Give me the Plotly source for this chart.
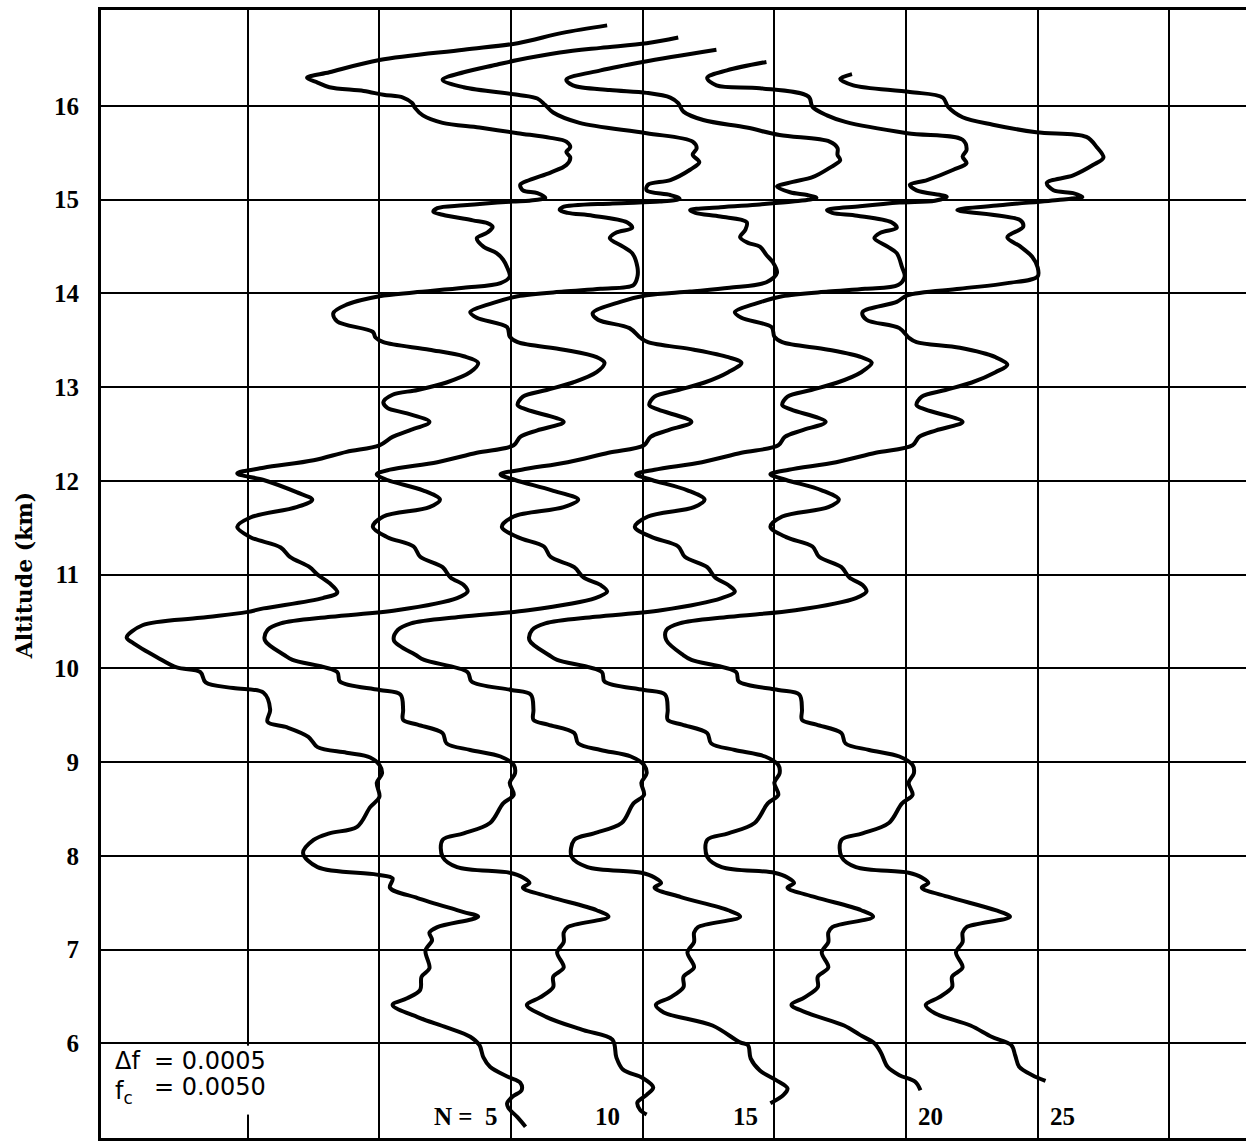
import plotly.graph_objects as go

# ---------------- data ----------------
altitude_ticks = [6, 7, 8, 9, 10, 11, 12, 13, 14, 15, 16]
tick_labels = [str(v) for v in altitude_ticks]
grid_columns = [1, 2, 3, 4, 5, 6, 7, 8]
series_names = ["N = 5", "10", "15", "20", "25"]

x_n5 = [3.73,3.39,3.05,2.64,2.00,1.62,1.45,1.53,1.62,1.88,
        2.03,2.18,2.25,2.27,2.33,2.48,2.76,3.05,3.30,3.42,
        3.45,3.42,3.45,3.42,3.30,3.14,3.07,3.09,3.20,3.26,
        3.14,3.01,2.64,2.44,2.41,2.48,2.71,2.82,2.86,2.82,
        2.74,2.79,2.89,2.94,2.97,2.99,2.92,2.64,2.26,2.00,
        1.75,1.65,1.68,1.95,1.97,2.03,2.38,2.64,2.75,2.69,
        2.51,2.29,2.10,2.03,2.06,2.21,2.38,2.23,2.10,2.00,
        1.75,1.50,1.12,0.92,1.12,1.37,1.49,1.37,1.02,0.92,
        1.02,1.25,1.32,1.47,1.53,1.62,1.68,1.57,1.12,0.99,
        0.64,0.20,0.08,0.13,0.31,0.46,0.64,0.68,0.89,1.12,
        1.17,1.15,1.30,1.46,1.53,1.75,1.93,2.00,2.02,1.98,
        2.00,1.93,1.83,1.62,1.50,1.42,1.53,1.98,2.10,2.08,
        2.29,2.64,2.75,2.44,2.38,2.40,2.35,2.38,2.32,2.31,
        2.21,2.10,2.29,2.51,2.69,2.76,2.79,2.84,2.98,3.07,
        3.08,3.01,2.97,2.98,3.05,3.11]
alt_n5 = [16.86,16.78,16.67,16.60,16.49,16.36,16.30,16.25,16.20,16.16,
          16.12,16.09,16.03,15.98,15.90,15.82,15.77,15.71,15.66,15.62,
          15.56,15.51,15.45,15.37,15.29,15.21,15.16,15.10,15.07,15.02,
          14.99,14.98,14.94,14.91,14.87,14.84,14.78,14.75,14.71,14.65,
          14.59,14.50,14.43,14.36,14.28,14.18,14.11,14.06,14.01,13.97,
          13.88,13.79,13.70,13.59,13.53,13.48,13.40,13.33,13.26,13.16,
          13.05,12.97,12.92,12.84,12.78,12.72,12.63,12.54,12.47,12.38,
          12.31,12.22,12.14,12.08,12.01,11.88,11.80,11.72,11.61,11.51,
          11.40,11.29,11.19,11.08,11.00,10.91,10.81,10.75,10.64,10.60,
          10.54,10.46,10.33,10.27,10.12,10.01,9.96,9.85,9.79,9.74,
          9.56,9.43,9.37,9.27,9.16,9.10,9.05,8.97,8.88,8.78,
          8.63,8.52,8.31,8.24,8.17,8.03,7.88,7.80,7.76,7.66,
          7.55,7.40,7.35,7.24,7.18,7.10,6.99,6.80,6.71,6.57,
          6.48,6.41,6.28,6.17,6.07,5.98,5.85,5.75,5.64,5.58,
          5.50,5.43,5.36,5.31,5.21,5.11]

x_n10 = [4.27,4.03,3.68,3.37,3.05,2.89,2.64,2.48,2.64,3.05,
         3.20,3.26,3.32,3.52,4.03,4.38,4.41,4.38,4.43,4.36,
         4.21,4.04,4.03,4.21,4.28,4.13,3.77,3.39,3.37,3.43,
         3.62,3.88,3.92,3.80,3.75,3.85,3.92,3.96,3.96,3.93,
         3.68,3.40,3.05,2.89,2.69,2.74,2.97,2.99,3.05,3.40,
         3.65,3.71,3.65,3.47,3.27,3.09,3.05,3.12,3.40,3.20,
         3.07,3.02,2.74,2.44,2.08,1.98,2.06,2.33,2.46,2.38,
         2.03,1.95,2.06,2.26,2.31,2.48,2.54,2.64,2.67,2.59,
         2.13,1.63,1.25,1.15,1.13,1.28,1.34,1.68,1.70,2.00,
         2.16,2.18,2.18,2.29,2.48,2.51,2.69,2.92,3.02,3.03,
         2.99,3.02,2.94,2.84,2.64,2.48,2.48,2.59,2.99,3.09,
         3.14,3.09,3.30,3.65,3.74,3.43,3.40,3.40,3.35,3.40,
         3.32,3.32,3.22,3.12,3.27,3.55,3.77,3.80,3.85,4.00,
         4.08,4.03,3.96,3.98,4.03]
alt_n10 = [16.73,16.67,16.62,16.57,16.49,16.44,16.36,16.28,16.20,16.12,
           16.08,16.01,15.93,15.82,15.71,15.62,15.55,15.48,15.40,15.32,
           15.21,15.16,15.10,15.05,15.01,14.98,14.96,14.92,14.89,14.86,
           14.83,14.76,14.70,14.65,14.59,14.50,14.43,14.28,14.18,14.09,
           14.05,14.02,13.97,13.91,13.80,13.74,13.64,13.54,13.48,13.40,
           13.32,13.26,13.16,13.05,12.97,12.90,12.81,12.76,12.63,12.54,
           12.47,12.38,12.30,12.20,12.12,12.07,12.01,11.90,11.80,11.72,
           11.62,11.51,11.40,11.30,11.19,11.08,10.97,10.89,10.82,10.75,
           10.62,10.55,10.48,10.41,10.30,10.14,10.09,9.96,9.86,9.77,
           9.72,9.56,9.45,9.40,9.31,9.20,9.13,9.06,8.97,8.88,
           8.78,8.65,8.56,8.35,8.24,8.17,7.99,7.88,7.82,7.77,
           7.71,7.66,7.56,7.42,7.35,7.24,7.18,7.08,6.97,6.81,
           6.71,6.60,6.49,6.41,6.28,6.14,6.04,5.85,5.72,5.63,
           5.53,5.45,5.37,5.29,5.24]

x_n15 = [4.56,4.00,3.68,3.42,3.47,3.75,4.03,4.21,4.27,4.31,
         4.46,4.79,5.04,5.42,5.48,5.48,5.50,5.42,5.29,5.14,
         5.02,5.12,5.25,5.32,5.14,4.89,4.59,4.36,4.40,4.59,
         4.79,4.78,4.74,4.80,4.89,4.94,4.99,5.02,4.94,4.66,
         4.36,4.03,3.83,3.62,3.66,3.90,3.98,4.04,4.39,4.65,
         4.75,4.65,4.47,4.27,4.09,4.05,4.12,4.37,4.19,4.06,
         4.01,3.74,3.43,3.08,2.92,3.03,3.31,3.51,3.40,3.02,
         2.93,3.05,3.25,3.30,3.48,3.55,3.68,3.73,3.64,3.13,
         2.62,2.24,2.14,2.11,2.28,2.34,2.67,2.70,3.00,3.15,
         3.17,3.17,3.28,3.48,3.51,3.68,3.91,4.01,4.03,3.99,
         4.01,3.93,3.84,3.63,3.48,3.46,3.58,3.99,4.09,4.14,
         4.09,4.29,4.65,4.74,4.42,4.39,4.39,4.34,4.39,4.31,
         4.31,4.21,4.10,4.16,4.53,4.74,4.80,4.82,4.89,5.01,
         5.10,5.07,4.97]
alt_n15 = [16.60,16.47,16.38,16.28,16.22,16.17,16.14,16.09,16.03,15.94,
           15.85,15.77,15.69,15.62,15.55,15.48,15.42,15.34,15.24,15.19,
           15.14,15.08,15.05,15.02,14.98,14.95,14.92,14.89,14.86,14.82,
           14.76,14.68,14.60,14.54,14.50,14.41,14.33,14.22,14.12,14.06,
           14.02,13.98,13.91,13.79,13.72,13.63,13.53,13.48,13.40,13.32,
           13.26,13.16,13.05,12.97,12.90,12.81,12.76,12.63,12.54,12.47,
           12.38,12.30,12.20,12.12,12.07,12.01,11.90,11.80,11.72,11.62,
           11.51,11.40,11.30,11.19,11.08,10.97,10.89,10.82,10.75,10.62,
           10.55,10.48,10.41,10.30,10.14,10.09,9.96,9.86,9.77,9.72,
           9.56,9.45,9.40,9.31,9.20,9.13,9.06,8.97,8.88,8.78,
           8.65,8.56,8.35,8.24,8.17,7.99,7.88,7.82,7.77,7.71,
           7.66,7.56,7.42,7.35,7.24,7.18,7.08,6.97,6.81,6.71,
           6.60,6.49,6.41,6.33,6.19,6.01,5.98,5.84,5.71,5.61,
           5.52,5.45,5.36]

x_n20 = [4.94,4.64,4.49,4.56,4.89,5.26,5.29,5.40,5.54,6.01,
         6.43,6.46,6.43,6.46,6.36,6.16,6.03,6.08,6.31,6.22,
         5.95,5.65,5.40,
         5.44,5.63,5.89,5.93,5.81,5.76,5.86,5.93,5.97,5.99,
         5.94,5.69,5.41,5.06,4.90,4.70,4.75,4.98,5.00,5.06,
         5.41,5.66,5.74,5.66,5.48,5.28,5.10,5.06,5.13,5.39,
         5.21,5.08,5.03,4.75,4.45,4.09,3.95,4.07,4.34,4.47,
         4.39,4.04,3.94,4.07,4.27,4.32,4.49,4.55,4.65,4.70,
         4.60,4.14,3.64,3.26,3.16,3.14,3.29,3.35,3.69,3.71,
         4.01,4.17,4.19,4.19,4.30,4.49,4.52,4.70,4.93,5.03,
         5.04,5.00,5.03,4.95,4.85,4.65,4.49,4.49,4.60,5.00,
         5.10,5.15,5.10,5.31,5.66,5.75,5.44,5.41,5.41,5.36,
         5.41,5.33,5.33,5.23,5.13,
         5.26,5.53,5.65,5.76,5.81,5.86,5.95,6.07,6.11]
alt_n20 = [16.47,16.38,16.30,16.22,16.19,16.10,15.99,15.90,15.83,15.71,
           15.64,15.53,15.46,15.39,15.32,15.21,15.16,15.10,15.03,14.99,
           14.97,14.93,14.89,
           14.86,14.83,14.76,14.70,14.65,14.59,14.50,14.43,14.28,14.18,
           14.09,14.05,14.02,13.97,13.91,13.80,13.74,13.64,13.54,13.48,
           13.40,13.32,13.26,13.16,13.05,12.97,12.90,12.81,12.76,12.63,
           12.54,12.47,12.38,12.30,12.20,12.12,12.07,12.01,11.90,11.80,
           11.72,11.62,11.51,11.40,11.30,11.19,11.08,10.97,10.89,10.82,
           10.75,10.62,10.55,10.48,10.41,10.30,10.14,10.09,9.96,9.86,
           9.77,9.72,9.56,9.45,9.40,9.31,9.20,9.13,9.06,8.97,
           8.88,8.78,8.65,8.56,8.35,8.24,8.17,7.99,7.88,7.82,
           7.77,7.71,7.66,7.56,7.42,7.35,7.24,7.18,7.08,6.97,
           6.81,6.71,6.60,6.49,6.41,
           6.32,6.19,6.09,6.00,5.90,5.75,5.66,5.59,5.50]

x_n25 = [5.59,5.50,5.60,6.03,6.28,6.32,6.43,6.66,6.99,7.37,
         7.45,7.50,7.42,7.27,7.07,7.12,7.27,7.34,7.17,6.71,
         6.39,6.87,6.89,6.77,6.87,6.96,7.00,7.00,6.77,6.41,
         6.01,
         5.93,5.67,5.70,5.95,6.02,6.08,6.41,6.68,6.77,6.68,
         6.50,6.30,6.12,6.08,6.15,6.43,
         6.23,6.10,6.05,5.77,5.47,5.11,4.97,5.09,5.36,5.49,
         5.41,5.06,4.97,5.09,5.29,5.34,5.51,5.57,5.67,5.70,
         5.62,5.16,4.66,4.28,4.18,4.18,4.31,4.37,4.71,4.73,
         5.03,5.19,5.21,5.21,5.32,5.51,5.54,5.72,5.95,6.05,
         6.06,6.02,6.05,5.97,5.87,5.67,5.51,5.51,5.62,6.02,
         6.12,6.17,6.12,6.33,6.68,6.79,6.46,6.43,6.43,6.38,
         6.43,6.35,6.35,6.25,6.15,
         6.22,6.49,6.65,6.80,6.83,6.86,6.96,7.06]
alt_n25 = [16.34,16.29,16.22,16.15,16.09,15.99,15.88,15.80,15.72,15.67,
           15.56,15.45,15.37,15.26,15.18,15.10,15.07,15.03,15.00,14.94,
           14.89,14.78,14.71,14.60,14.50,14.39,14.28,14.18,14.11,14.05,
           13.98,
           13.91,13.80,13.72,13.63,13.53,13.48,13.42,13.32,13.24,13.16,
           13.05,12.97,12.90,12.81,12.76,12.63,
           12.54,12.47,12.38,12.30,12.20,12.12,12.07,12.01,11.90,11.80,
           11.72,11.62,11.51,11.40,11.30,11.19,11.08,10.97,10.89,10.82,
           10.75,10.62,10.55,10.48,10.41,10.30,10.14,10.09,9.96,9.86,
           9.77,9.72,9.56,9.45,9.40,9.31,9.20,9.13,9.06,8.97,
           8.88,8.78,8.65,8.56,8.35,8.24,8.17,7.99,7.88,7.82,
           7.77,7.71,7.66,7.56,7.42,7.35,7.24,7.18,7.08,6.97,
           6.81,6.71,6.60,6.49,6.41,
           6.32,6.19,6.07,5.98,5.87,5.75,5.66,5.60]

# ---------------- figure ----------------
fig = go.Figure()
xs_all = [x_n5, x_n10, x_n15, x_n20, x_n25]
ys_all = [alt_n5, alt_n10, alt_n15, alt_n20, alt_n25]
for name, xs, ys in zip(series_names, xs_all, ys_all):
    fig.add_trace(go.Scatter(
        x=xs, y=ys, mode="lines", name=name, hoverinfo="skip",
        line=dict(color="black", width=4, shape="spline", smoothing=0.95),
    ))

# label layout (positions are layout constants, not data)
label_x = [2.66, 3.73, 4.78, 6.19, 7.19]
label_text = ["N =\u00a0\u00a05", "10", "15", "20", "25"]
label_font = dict(family="Liberation Serif", size=25, color="black", weight="bold")
annotations = []
for t, lx in zip(label_text, label_x):
    annotations.append(dict(x=lx, y=5.22, xref="x", yref="y", text=t,
                            showarrow=False, xanchor="center", yanchor="middle",
                            font=label_font))

note_font = dict(family="DejaVu Sans", size=24, color="black")
annotations += [
    dict(x=-0.024, y=5.81, xref="x", yref="y", text="\u0394f", showarrow=False,
         xanchor="left", yanchor="middle", font=note_font),
    dict(x=0.27, y=5.81, xref="x", yref="y", text="= 0.0005", showarrow=False,
         xanchor="left", yanchor="middle", font=note_font),
    dict(x=-0.024, y=5.48, xref="x", yref="y", text="f<sub>c</sub>", showarrow=False,
         xanchor="left", yanchor="middle", font=note_font),
    dict(x=0.27, y=5.533, xref="x", yref="y", text="= 0.0050", showarrow=False,
         xanchor="left", yanchor="middle", font=note_font),
    dict(x=-0.0672, y=0.498, xref="paper", yref="paper", text="Altitude (km)",
         showarrow=False, textangle=-90, xanchor="center", yanchor="middle",
         font=dict(family="DejaVu Serif", size=22, color="black", weight="bold")),
]

fig.update_layout(
    width=1246, height=1142,
    margin=dict(l=101, r=0, t=10, b=4),
    paper_bgcolor="white", plot_bgcolor="white",
    showlegend=False,
    annotations=annotations,
    shapes=[dict(type="rect", xref="x", yref="y", x0=0.97, x1=1.03, y0=5.24, y1=5.975,
                 fillcolor="white", line=dict(width=0), layer="above")],
    xaxis=dict(range=[-0.115, 8.583], tickvals=grid_columns, showticklabels=False,
               showgrid=True, gridcolor="black", gridwidth=2, zeroline=False,
               showline=True, linecolor="black", linewidth=3, mirror=True, ticks=""),
    yaxis=dict(range=[4.99, 17.024], tickvals=altitude_ticks, ticktext=tick_labels,
               showgrid=True, gridcolor="black", gridwidth=2, zeroline=False,
               showline=True, linecolor="black", linewidth=3, mirror=False, ticks="",
               ticklabelstandoff=14,
               tickfont=dict(family="Liberation Serif", size=25, color="black", weight="bold")),
)

fig.write_html("out.html")
